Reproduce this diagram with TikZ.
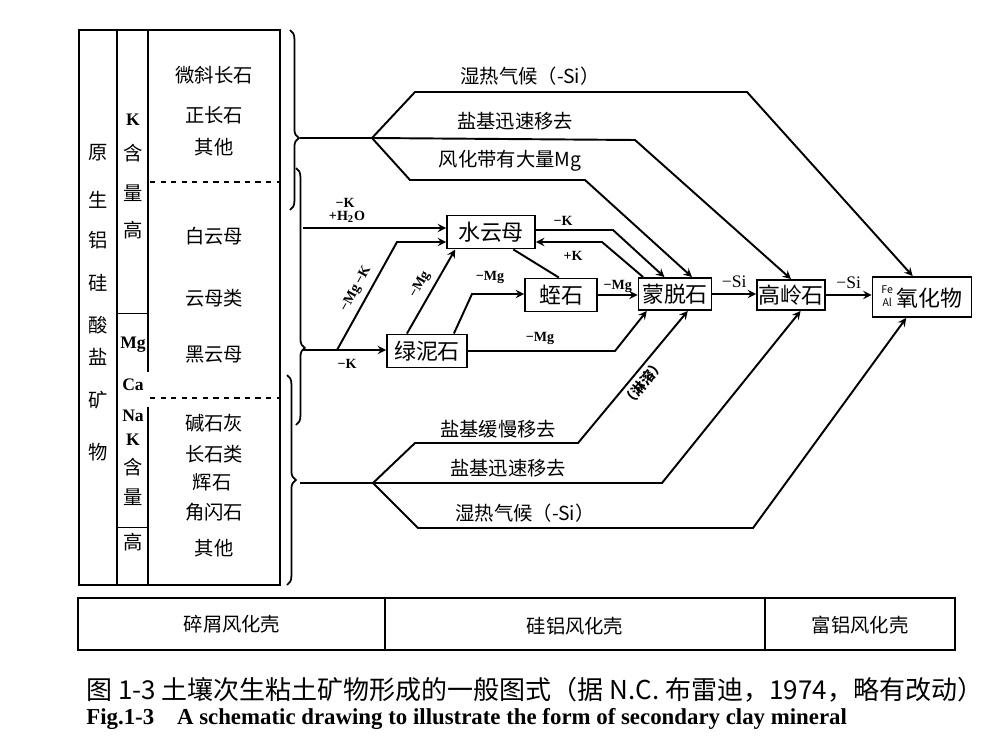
\documentclass[tikz,border=0pt]{standalone}
\usepackage{fontspec}
\setmainfont{Liberation Serif}
\newfontfamily\cjk{Noto Sans CJK SC}
\usetikzlibrary{decorations.pathreplacing}

\begin{document}
\begin{tikzpicture}[x=0.02cm, y=-0.02cm, >=stealth,
    txt/.style={font=\cjk\fontsize{11}{11}\selectfont, inner sep=0pt},
    lat/.style={font=\bfseries\fontsize{10}{10}\selectfont, inner sep=0pt},
    lbl/.style={font=\bfseries\fontsize{8}{8}\selectfont, inner sep=1pt},
    box/.style={draw, line width=1.1pt, inner sep=0pt, fill=white, font=\cjk\fontsize{12.5}{12.5}\selectfont},
    ln/.style={line width=1.1pt},
    brc/.style={decorate, decoration={brace, amplitude=5pt}, line width=1pt}]
\useasboundingbox (0,0) rectangle (1000,750);

% primary minerals table
\draw[line width=1.3pt] (79,30) rectangle (280,585);
\draw[line width=1.3pt] (117,30) -- (117,585);
\draw[line width=1pt] (148,30) -- (148,372);
\draw[line width=1pt] (148,407) -- (148,585);
\draw (117,313) -- (148,313);
\draw (117,527) -- (148,527);
\draw[dashed, line width=0.8pt] (150,182) -- (280,182);
\draw[dashed, line width=0.8pt] (150,398) -- (280,398);

\node[txt] (c1a) at (98,153) {原};
\node[txt] (c1b) at (98,200) {生};
\node[txt] (c1c) at (98,240) {铝};
\node[txt] (c1d) at (98,283) {硅};
\node[txt] (c1e) at (98,325) {酸};
\node[txt] (c1f) at (98,357) {盐};
\node[txt] (c1g) at (98,400) {矿};
\node[txt] (c1h) at (98,452) {物};

\node[lat] (c2a) at (133,120) {K};
\node[txt] (c2b) at (133,153) {含};
\node[txt] (c2c) at (133,193) {量};
\node[txt] (c2d) at (133,230) {高};
\node[lat] (c2e) at (133,345) {Mg};
\node[lat] (c2f) at (133,385) {Ca};
\node[lat] (c2g) at (133,416) {Na};
\node[lat] (c2h) at (133,440) {K};
\node[txt] (c2i) at (133,467) {含};
\node[txt] (c2j) at (133,497) {量};
\node[txt] (c2k) at (133,542) {高};

\node[txt] (wxcs) at (214,75) {微斜长石};
\node[txt] (zcs) at (214,115) {正长石};
\node[txt] (qt1) at (214,147) {其他};
\node[txt] (byum) at (214,236) {白云母};
\node[txt] (ymlei) at (214,298) {云母类};
\node[txt] (hyum) at (214,355) {黑云母};
\node[txt] (jsh) at (214,423) {碱石灰};
\node[txt] (cslei) at (214,454) {长石类};
\node[txt] (hs) at (212,482) {辉石};
\node[txt] (jss) at (214,512) {角闪石};
\node[txt] (qt2) at (214,548) {其他};

% braces
\draw[brc, decoration={aspect=0.6}] (290,30) -- (290,210);
\draw[brc, decoration={aspect=0.7}] (296,168) -- (296,425);
\draw[brc, decoration={aspect=0.5}] (287,375) -- (287,585);

% clay minerals
\node[box, minimum width=1.76cm, minimum height=0.66cm] (hym) at (491,232) {水云母};
\node[box, minimum width=1.44cm, minimum height=0.66cm] (zs) at (561,295) {蛭石};
\node[box, minimum width=1.6cm, minimum height=0.66cm] (lns) at (427,351) {绿泥石};
\node[box, minimum width=1.46cm, minimum height=0.64cm] (mts) at (675,294) {蒙脱石};
\node[box, minimum width=1.36cm, minimum height=0.6cm] (gls) at (791,295) {高岭石};
\node[box, minimum width=1.98cm, minimum height=0.8cm] (yhw) at (922,297)
  {{\fontsize{6}{6}\selectfont\shortstack{Fe\\Al}}\,氧化物};

% upper branch
\coordinate (t0) at (300,138);
\coordinate (tb) at (372,138);
\coordinate (t1) at (415,92);
\coordinate (t2) at (747,92);
\coordinate (t3) at (635,140);
\coordinate (t4) at (410,180);
\coordinate (t5) at (585,180);
\draw[ln] (t0) -- (tb);
\draw[ln, ->] (tb) -- (t1) -- (t2) -- (yhw.114);
\draw[ln, ->] (tb) -- (t3) -- (gls.north);
\draw[ln, ->] (tb) -- (t4) -- (t5) -- (mts.45);
\node[txt] (l1) at (530,76) {湿热气候（-Si）};
\node[txt] (l2) at (515,121) {盐基迅速移去};
\node[txt] (l3) at (510,161) {风化带有大量Mg};

% micas and chlorite
\coordinate (s1) at (303,228);
\coordinate (s2) at (303,350);
\coordinate (d1) at (337,350);
\coordinate (d2) at (397,242);
\coordinate (m1) at (472,294);
\coordinate (m2) at (615,351);
\coordinate (k1) at (613,230);
\coordinate (k2) at (602,242);
\draw[ln, ->] (s1) -- (s1 -| hym.west);
\node[lbl] (lk1) at (345,203) {−K};
\node[lbl] (lh2o) at (347,217) {+H\textsubscript{2}O};
\draw[ln, ->] (s2) -- (s2 -| lns.west);
\node[lbl] (lk2) at (347,364) {−K};
\draw[ln, ->] (d1) -- (d2) -- (d2 -| hym.west);
\node[lbl, rotate=61] (lmgk) at (356,289) {−Mg\,−K};
\draw[ln, ->] (lns.139) -- (hym.206);
\node[lbl, rotate=60] (lmg0) at (420,285) {−Mg};
\draw[ln, ->] (lns.33) -- (m1) -- (m1 -| zs.west);
\node[lbl] (lmg1) at (490,277) {−Mg};
\draw[ln] (hym.322) -- (zs.97);
\draw[ln, ->] (zs.east) -- node[lbl, above] {−Mg} (zs.east -| mts.west);
\draw[ln, ->] (hym.east |- k1) -- (k1) -- (mts.122);
\node[lbl] (lk3) at (563,221) {−K};
\draw[ln, ->] (mts.152) -- (k2) -- (hym.east |- k2);
\node[lbl] (lk4) at (573,256) {+K};
\draw[ln, ->] (lns.east) -- (m2) -- (mts.211);
\node[lbl] (lmg2) at (540,338) {−Mg};
\draw[ln, ->] (mts.east) -- node[lbl, above=2pt, font=\fontsize{10}{10}\selectfont] {−Si} (gls.west |- mts.east);
\draw[ln, ->] (gls.east) -- node[lbl, above=2pt, font=\fontsize{10}{10}\selectfont] {−Si} (yhw.west |- gls.east);

% lower branch
\coordinate (b0) at (300,483);
\coordinate (bb) at (373,483);
\coordinate (b1) at (415,443);
\coordinate (b2) at (578,443);
\coordinate (b3) at (662,483);
\coordinate (b4) at (418,528);
\coordinate (b5) at (753,528);
\draw[ln] (b0) -- (bb);
\draw[ln, ->] (bb) -- (b1) -- (b2) -- (mts.307);
\node[rotate=51, inner sep=0pt, font=\cjk\bfseries\fontsize{8}{8}\selectfont] (llr) at (643,383) {（淋溶）};
\draw[ln, ->] (bb) -- (b3) -- (gls.301);
\draw[ln, ->] (bb) -- (b4) -- (b5) -- (yhw.233);
\node[txt] (l4) at (498,429) {盐基缓慢移去};
\node[txt] (l5) at (508,468) {盐基迅速移去};
\node[txt] (l6) at (525,513) {湿热气候（-Si）};

% weathering crusts
\draw[line width=1.3pt] (78,598) rectangle (955,650);
\draw[line width=1pt] (385,598) -- (385,650);
\draw[line width=1pt] (765,598) -- (765,650);
\node[txt] (wk1) at (232,624) {碎屑风化壳};
\node[txt] (wk2) at (575,626) {硅铝风化壳};
\node[txt] (wk3) at (860,625) {富铝风化壳};

% caption
\node[anchor=west, inner sep=0pt, font=\cjk\fontsize{14.8}{14.8}\selectfont] (cap1) at (86,690)
  {图 1-3 土壤次生粘土矿物形成的一般图式（据 N.C. 布雷迪，1974，略有改动）};
\node[anchor=west, inner sep=0pt, font=\bfseries\fontsize{13}{13}\selectfont] (cap2) at (86,719)
  {Fig.1-3\quad A schematic drawing to illustrate the form of secondary clay mineral};
\end{tikzpicture}
\end{document}
